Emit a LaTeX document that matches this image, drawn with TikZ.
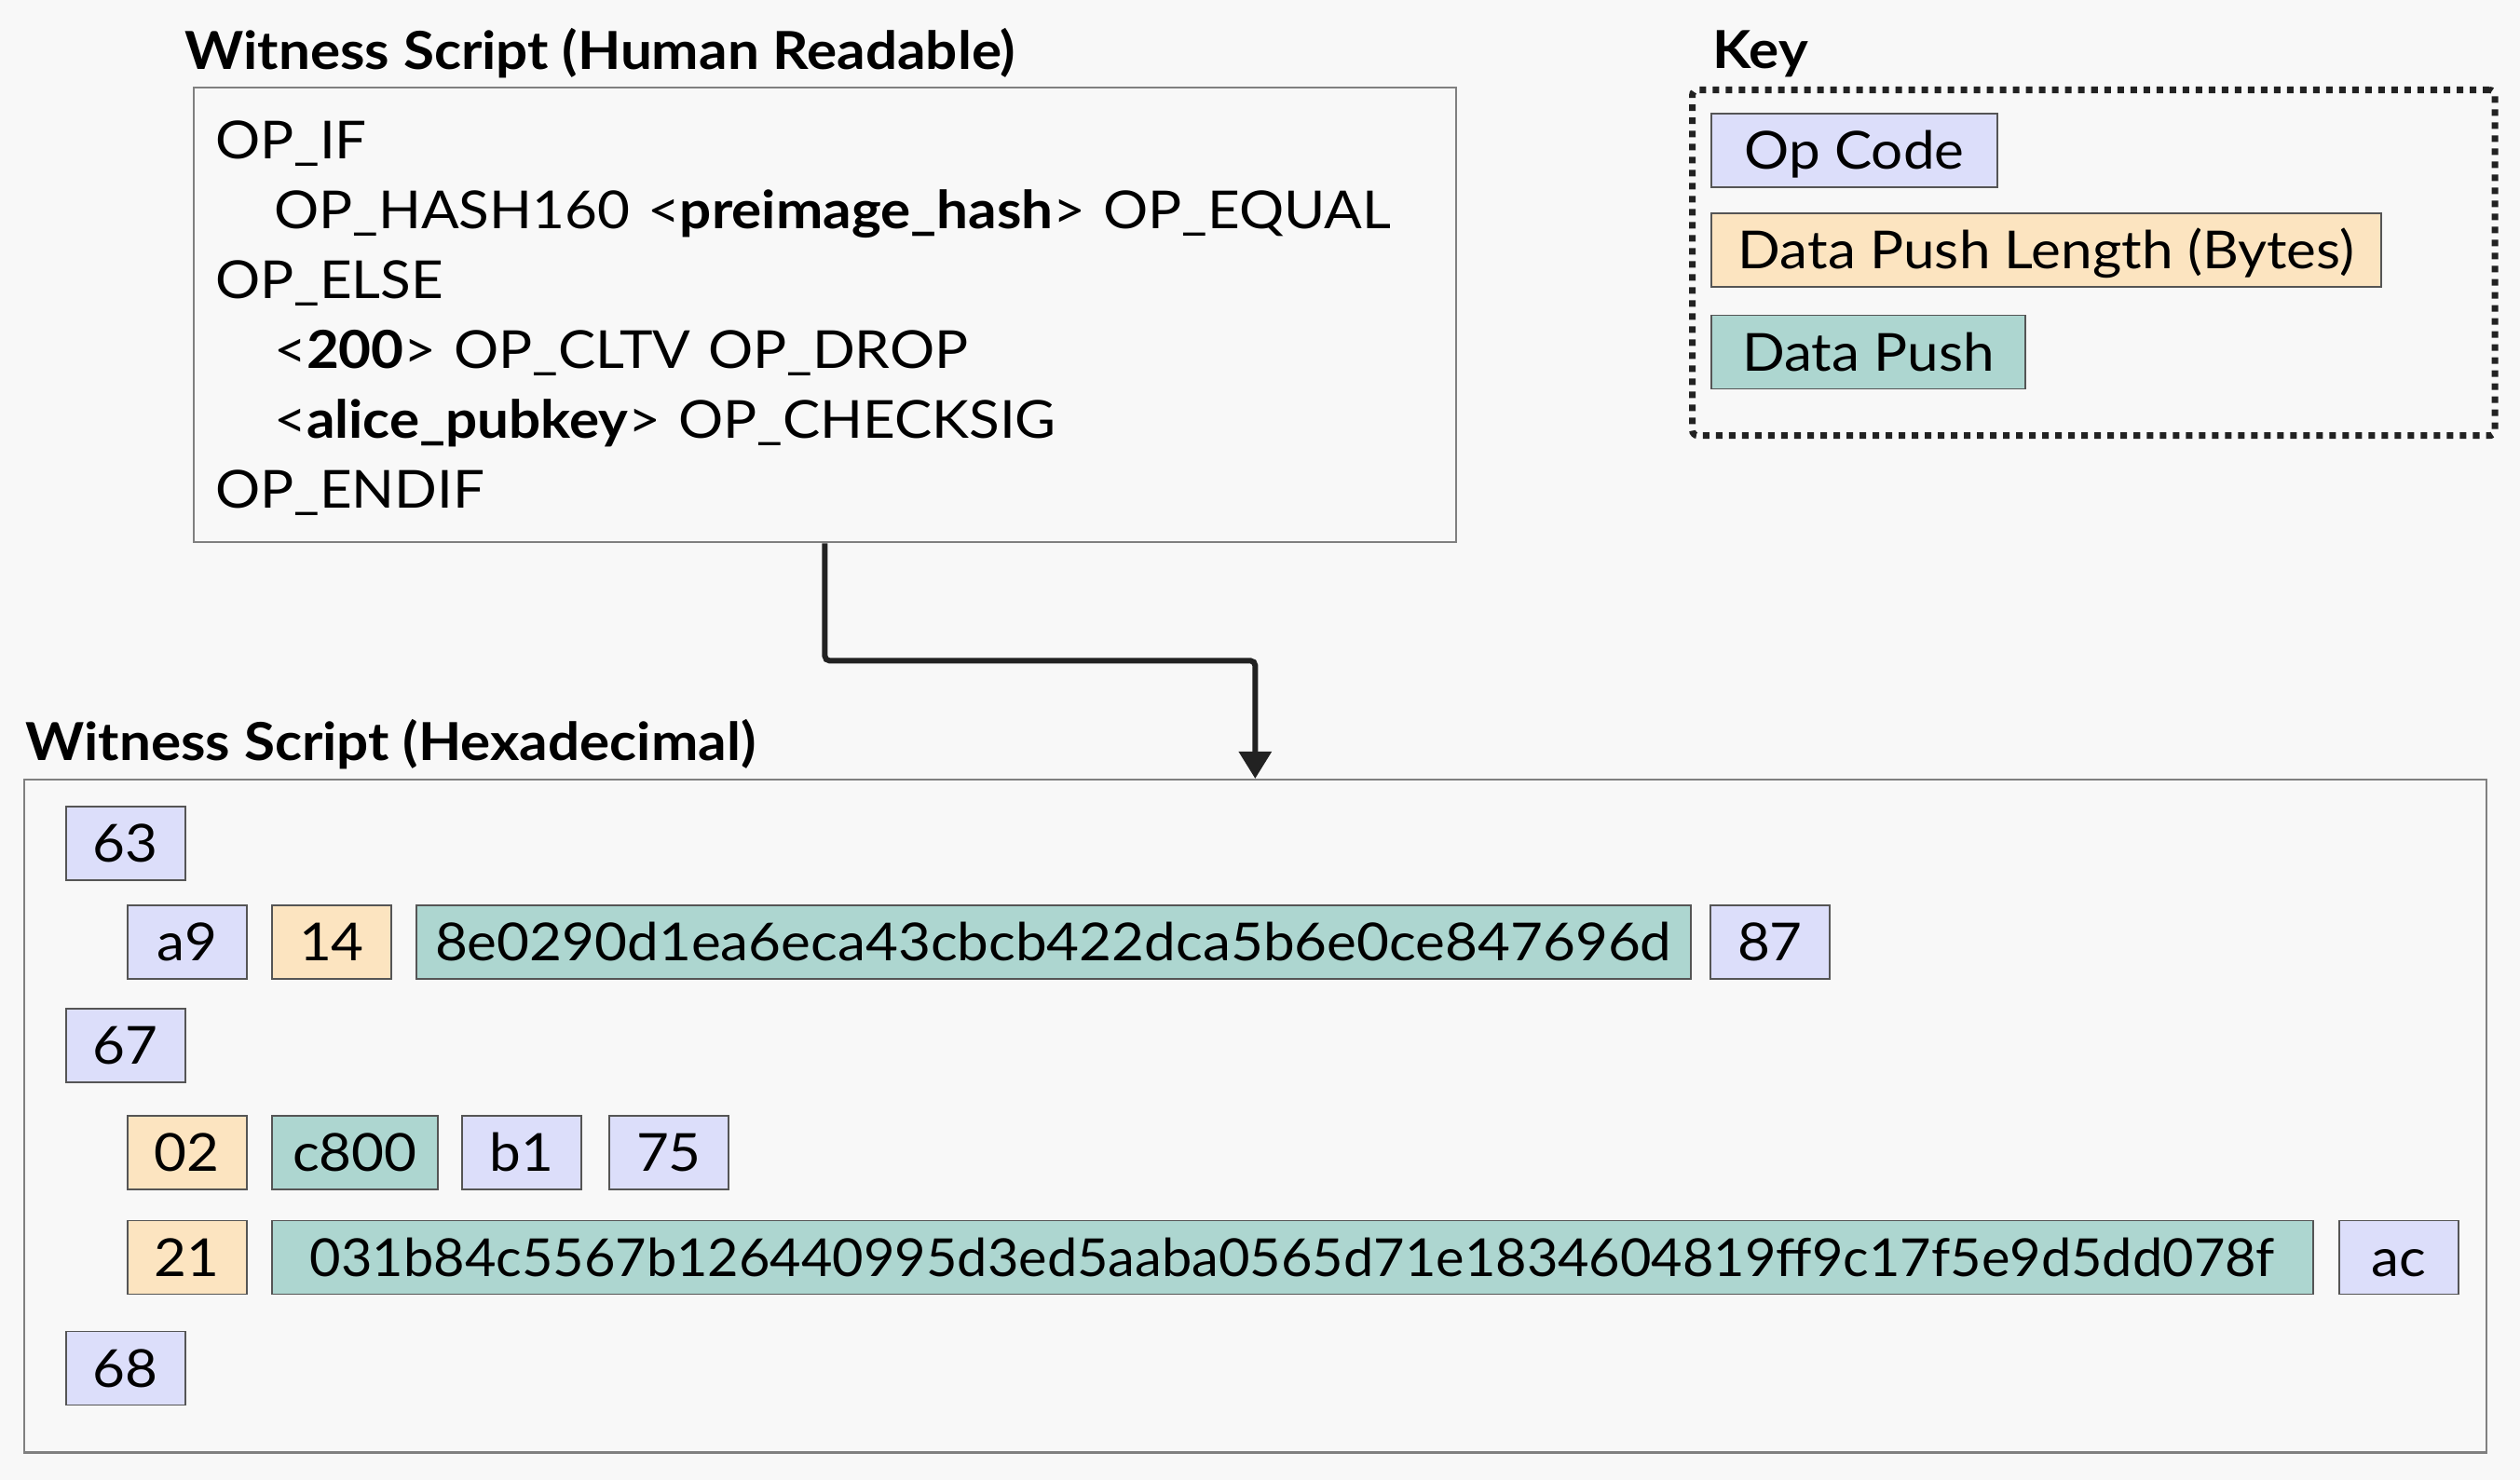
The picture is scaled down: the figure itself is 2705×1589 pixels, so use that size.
\documentclass[tikz,border=0pt]{standalone}
\usepackage{fontspec}
\setmainfont{Lato}[FakeStretch=1.07]
\usetikzlibrary{arrows.meta}
\definecolor{bgcol}{HTML}{F8F8F8}
\definecolor{opcol}{HTML}{DCDEFA}
\definecolor{lencol}{HTML}{FCE4C0}
\definecolor{pushcol}{HTML}{ADD6D0}
\definecolor{edgecol}{HTML}{808080}
\definecolor{celledge}{HTML}{555555}
\definecolor{inkcol}{HTML}{222222}

\begin{document}
\begin{tikzpicture}[x=0.01cm,y=-0.01cm,
        txt/.style={font=\fontsize{16}{21.34}\selectfont},
        heading/.style={font=\fontsize{16}{19}\selectfont\bfseries, anchor=base west, inner sep=0},
        cell/.style={draw=celledge, line width=0.5pt, anchor=west, inner sep=0,
            minimum height=0.79cm, minimum width=1.28cm, text height=0.4cm, text depth=0cm, txt},
        opcode/.style={cell, fill=opcol},
        pushlen/.style={cell, fill=lencol},
        pushdata/.style={cell, fill=pushcol}]
    \fill[bgcol] (0,0) rectangle (2705,1589);
    % human readable script
    \node[heading] (hrtitle) at (198,75) {Witness Script (Human Readable)};
    \node[draw=edgecol, fill=bgcol, line width=0.6pt, anchor=north west, txt,
        minimum height=4.88cm, text width=13.08cm, inner xsep=0.23cm, align=left] (hr) at (207,93)
        {\rule{0pt}{0.48cm}OP\_IF\\
         \hspace*{0.63cm}OP\_HASH160 <\textbf{preimage\_hash}> OP\_EQUAL\\
         OP\_ELSE\\
         \hspace*{0.63cm}<\textbf{200}> OP\_CLTV OP\_DROP\\
         \hspace*{0.63cm}<\textbf{alice\_pubkey}> OP\_CHECKSIG\\
         OP\_ENDIF};
    % key
    \node[heading] (keytitle) at (1838,74) {Key};
    \node[draw=inkcol, line width=2pt, dash pattern=on 0.07cm off 0.07cm, rounded corners=0.06cm,
        anchor=north west, minimum width=8.61cm, minimum height=3.71cm] (key) at (1813,93) {};
    \node[opcode, minimum width=3.07cm] (kop) at (1836,161.5) {Op Code};
    \node[pushlen, minimum width=7.19cm] (klen) at (1836,268.5) {Data Push Length (Bytes)};
    \node[pushdata, minimum width=3.37cm] (kpush) at (1836,378) {Data Push};
    % hexadecimal script
    \node[heading] (hextitle) at (27,817) {Witness Script (Hexadecimal)};
    \node[draw=edgecol, line width=0.6pt, anchor=north west, inner sep=0,
        minimum width=26.41cm, minimum height=7.22cm] (hex) at (25,836) {};
    \node[opcode] (h63) at (70,905.5) {63};
    \node[opcode] (ha9) at (136,1011.5) {a9};
    \node[pushlen] (h14) at (291,1011.5) {14};
    \node[pushdata, minimum width=13.67cm] (hhash) at (446,1011.5) {8e0290d1ea6eca43cbcb422dca5b6e0ce847696d};
    \node[opcode] (h87) at (1835,1011.5) {87};
    \node[opcode] (h67) at (70,1122.5) {67};
    \node[pushlen] (h02) at (136,1237.5) {02};
    \node[pushdata, minimum width=1.78cm] (hc800) at (291,1237.5) {c800};
    \node[opcode] (hb1) at (495,1237.5) {b1};
    \node[opcode] (h75) at (653,1237.5) {75};
    \node[pushlen] (h21) at (136,1350) {21};
    \node[pushdata, minimum width=21.90cm] (hkey) at (291,1350)
        {\addfontfeature{FakeStretch=1.026}031b84c5567b126440995d3ed5aaba0565d71e1834604819ff9c17f5e9d5dd078f};
    \node[opcode] (hac) at (2510,1350) {ac};
    \node[opcode] (h68) at (70,1469) {68};
    % arrow
    \draw[inkcol, line width=1.7pt, rounded corners=0.05cm, -{Triangle[length=0.29cm,width=0.34cm]}]
        (hr.south) -- ++(0,126) -| (hex.north);
\end{tikzpicture}
\end{document}
